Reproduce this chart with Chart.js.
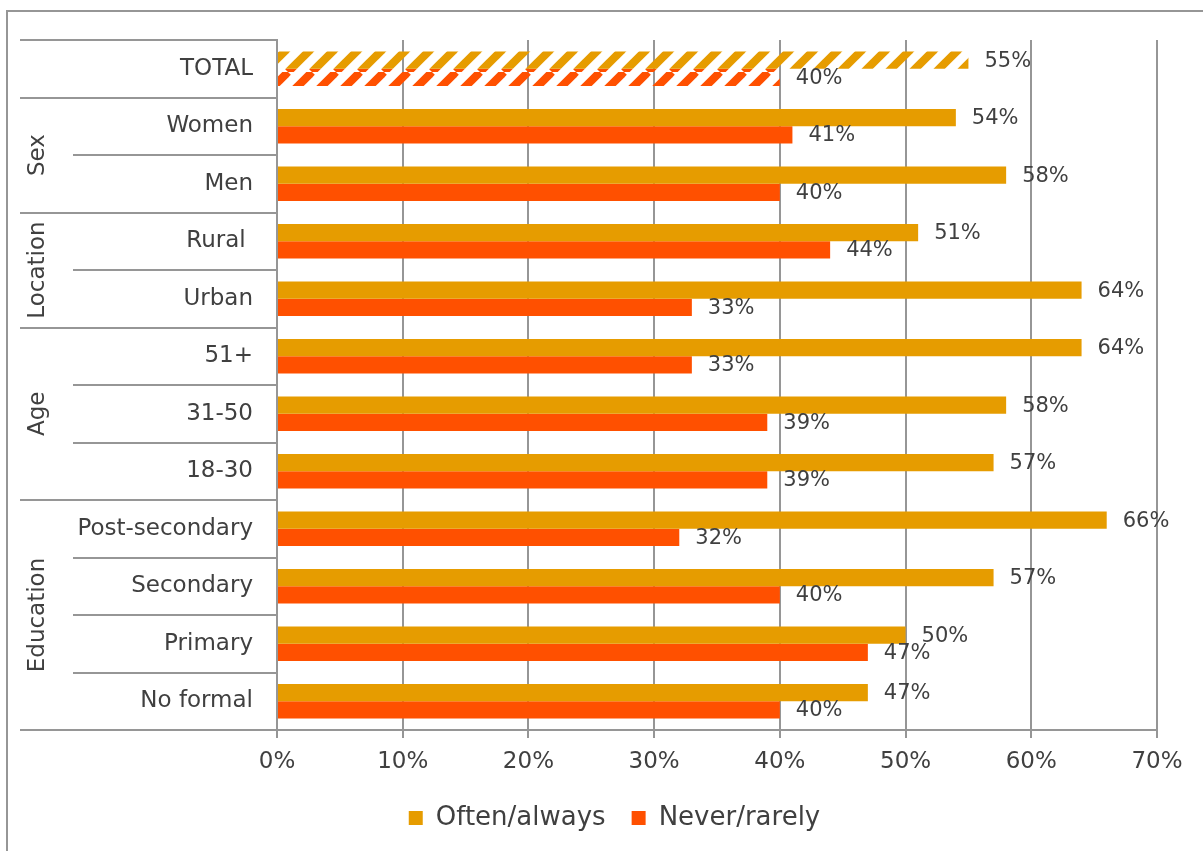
<!DOCTYPE html>
<html>
<head>
<meta charset="utf-8">
<script src="https://cdn.jsdelivr.net/npm/chart.js@4/dist/chart.umd.min.js"></script>
<style>
  html, body { margin: 0; padding: 0; background: #fff; }
  canvas { display: block; }
</style>
</head>
<body>
<canvas id="chart" width="1203" height="851"></canvas>
<script>
// categories top to bottom
const categories = ['TOTAL', 'Women', 'Men', 'Rural ', 'Urban', '51+', '31-50', '18-30',
  'Post-secondary', 'Secondary', 'Primary', 'No formal'];

// group names on the left, and how many categories each spans
const groupLabels = ['', 'Sex', 'Location', 'Age', 'Education'];
const groupSizes = [1, 2, 2, 3, 4];

const seriesNames = ['Often/always', 'Never/rarely'];
const oftenAlways = [55, 54, 58, 51, 64, 64, 58, 57, 66, 57, 50, 47];
const neverRarely = [40, 41, 40, 44, 33, 33, 39, 39, 32, 40, 47, 40];

const xTicks = [0, 10, 20, 30, 40, 50, 60, 70];

const GOLD = '#E69C00';
const ORANGE = '#FF5000';
const TEXT = '#404040';
const LINE = '#969696';
const FONT = 'DejaVu Sans';

// diagonal stripe fill used for the TOTAL row
function stripes(color) {
  const s = 24;
  const c = document.createElement('canvas');
  c.width = c.height = s;
  const g = c.getContext('2d');
  g.strokeStyle = color;
  g.lineWidth = 8;
  for (let k = -1; k <= 1; k++) {
    g.beginPath();
    g.moveTo(k * s, s);
    g.lineTo(k * s + s, 0);
    g.stroke();
  }
  return g.createPattern(c, 'repeat');
}

function fills(color) {
  return categories.map((c, i) => i === 0 ? stripes(color) : color);
}

// outer frame (left and top edges)
const framePlugin = {
  id: 'frame',
  beforeDraw(chart) {
    const ctx = chart.ctx;
    ctx.save();
    ctx.strokeStyle = LINE;
    ctx.lineWidth = 2;
    ctx.beginPath();
    ctx.moveTo(7, chart.height + 2);
    ctx.lineTo(7, 11);
    ctx.lineTo(chart.width + 2, 11);
    ctx.stroke();
    ctx.restore();
  }
};

// separator lines and rotated group names in the category area
const groupPlugin = {
  id: 'groups',
  afterDraw(chart) {
    const ctx = chart.ctx;
    const area = chart.chartArea;
    const step = (area.bottom - area.top) / categories.length;
    const groupEnds = [];
    let n = 0;
    groupSizes.forEach(s => { n += s; groupEnds.push(n); });

    ctx.save();
    ctx.strokeStyle = LINE;
    ctx.lineWidth = 2;
    for (let i = 0; i <= categories.length; i++) {
      const py = Math.round(area.top + i * step);
      const long = i === 0 || groupEnds.includes(i);
      ctx.beginPath();
      ctx.moveTo(long ? 20 : 73, py);
      ctx.lineTo(area.left, py);
      ctx.stroke();
    }

    ctx.fillStyle = TEXT;
    ctx.font = '23px "' + FONT + '"';
    ctx.textAlign = 'center';
    ctx.textBaseline = 'middle';
    let start = 0;
    groupSizes.forEach((s, gi) => {
      const name = groupLabels[gi];
      if (name) {
        const cy = area.top + (start + s / 2) * step;
        ctx.save();
        ctx.translate(38, cy);
        ctx.rotate(-Math.PI / 2);
        ctx.fillText(name, 0, 0);
        ctx.restore();
      }
      start += s;
    });
    ctx.restore();
  }
};

// value labels to the right of each bar
const valueLabelPlugin = {
  id: 'valueLabels',
  afterDatasetsDraw(chart) {
    const ctx = chart.ctx;
    ctx.save();
    ctx.fillStyle = TEXT;
    ctx.font = '21px "' + FONT + '"';
    ctx.textAlign = 'left';
    ctx.textBaseline = 'middle';
    chart.data.datasets.forEach((ds, di) => {
      chart.getDatasetMeta(di).data.forEach((bar, i) => {
        ctx.fillText(ds.data[i] + '%', bar.x + 16, bar.y + 1);
      });
    });
    ctx.restore();
  }
};

const ctx = document.getElementById('chart').getContext('2d');

new Chart(ctx, {
  type: 'bar',
  data: {
    labels: categories,
    datasets: [
      {
        label: seriesNames[0],
        data: oftenAlways,
        backgroundColor: fills(GOLD),
        borderWidth: 0,
      },
      {
        label: seriesNames[1],
        data: neverRarely,
        backgroundColor: fills(ORANGE),
        borderWidth: 0,
      },
    ],
  },
  options: {
    indexAxis: 'y',
    responsive: false,
    animation: false,
    devicePixelRatio: 1,
    categoryPercentage: 0.6,
    barPercentage: 1.0,
    layout: {
      padding: { top: 40, left: 72, right: 46, bottom: 10 },
    },
    scales: {
      x: {
        min: 0,
        max: 70,
        afterBuildTicks: scale => {
          scale.ticks = xTicks.map(v => ({ value: v }));
        },
        afterFit: scale => { scale.height = 49; },
        ticks: {
          callback: v => v + '%',
          color: TEXT,
          padding: 10,
          font: { family: FONT, size: 23 },
          maxRotation: 0,
        },
        grid: {
          color: LINE,
          lineWidth: 2,
          tickLength: 8,
        },
        border: { display: true, color: LINE, width: 2 },
      },
      y: {
        afterFit: scale => { scale.width = 205; },
        ticks: {
          color: TEXT,
          padding: 24,
          font: { family: FONT, size: 23 },
        },
        grid: { display: false, drawTicks: false },
        border: { display: true, color: LINE, width: 2 },
      },
    },
    plugins: {
      legend: {
        position: 'bottom',
        labels: {
          boxWidth: 14,
          boxHeight: 14,
          padding: 26,
          color: TEXT,
          font: { family: FONT, size: 26 },
          generateLabels: chart => {
            const items = Chart.defaults.plugins.legend.labels.generateLabels(chart);
            items.forEach((it, i) => {
              const c = i === 0 ? GOLD : ORANGE;
              it.fillStyle = c;
              it.strokeStyle = c;
              it.lineWidth = 0;
            });
            return items;
          },
        },
      },
      tooltip: { enabled: false },
    },
  },
  plugins: [framePlugin, groupPlugin, valueLabelPlugin],
});
</script>
</body>
</html>
